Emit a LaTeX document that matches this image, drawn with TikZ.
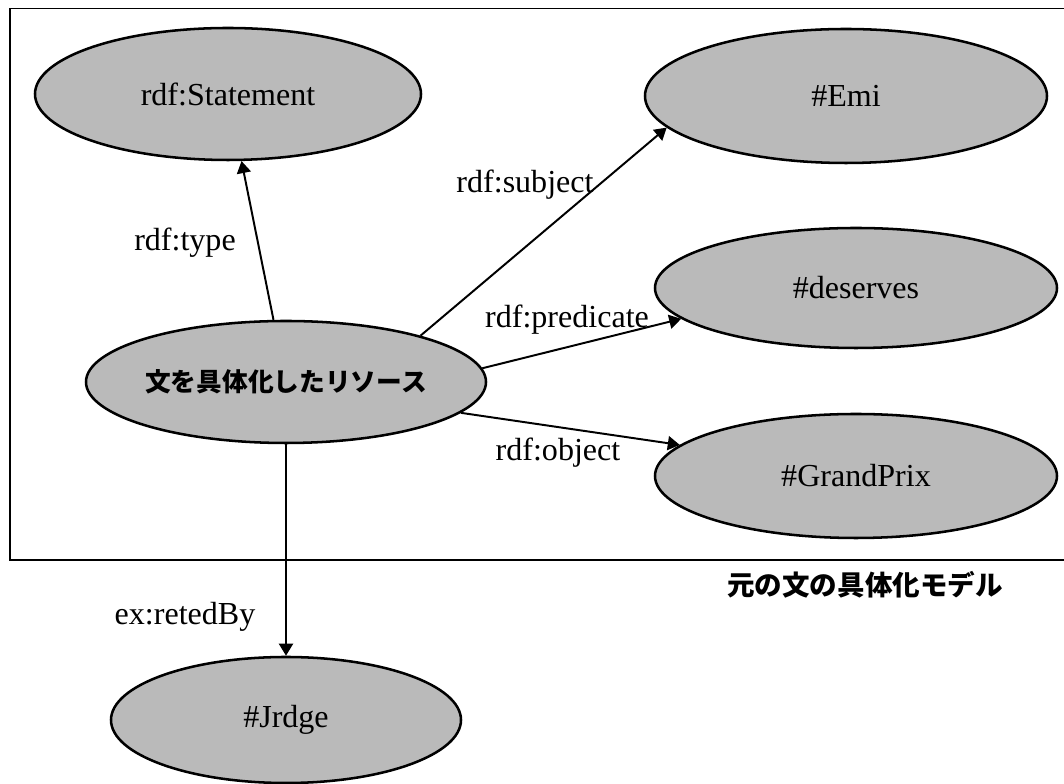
\documentclass[tikz,border=0pt]{standalone}
\usepackage{fontspec}
\setmainfont{Liberation Serif}
\newfontfamily\jpfont{Noto Sans CJK JP}
\usetikzlibrary{shapes.geometric,arrows.meta}
\begin{document}
\begin{tikzpicture}[
    res/.style={ellipse,draw,line width=1.8pt,fill=black!27,inner sep=0pt,
      font=\fontsize{22.8}{27}\selectfont},
    arr/.style={line width=1.4pt,-{Triangle[length=0.3cm,width=0.35cm]}},
    lbl/.style={font=\fontsize{22.8}{27}\selectfont,inner sep=0pt}]
  \useasboundingbox (0,0) rectangle (26.6,19.6);
  \draw[line width=1pt] (0.25,19.38) rectangle (26.8,5.6);
  \node[res,minimum width=9.65cm,minimum height=3.3cm] (stmt) at (5.7,17.25) {rdf:Statement};
  \node[res,minimum width=10.05cm,minimum height=3.35cm] (emi) at (21.15,17.2) {\#Emi};
  \node[res,minimum width=10.05cm,minimum height=3.0cm] (deserves) at (21.4,12.4) {\#deserves};
  \node[res,minimum width=10.05cm,minimum height=3.1cm] (prix) at (21.4,7.7) {\#GrandPrix};
  \node[res,minimum width=10.0cm,minimum height=3.05cm] (reif) at (7.15,10.05)
    {\jpfont\bfseries\fontsize{18.3}{22}\selectfont 文を具体化したリソース};
  \node[res,minimum width=8.75cm,minimum height=3.15cm] (judge) at (7.15,1.6) {\#Jrdge};
  \draw[arr] (reif) -- (stmt);
  \draw[arr] (reif.19) -- (emi.190);
  \draw[arr] (reif.4) -- (deserves.190);
  \draw[arr] (reif.350) -- (prix.170);
  \draw[arr] (reif.south) -- (judge.north);
  \node[lbl] (ltype) at (4.625,13.525) {rdf:type};
  \node[lbl] (lsubj) at (13.125,14.975) {rdf:subject};
  \node[lbl] (lpred) at (14.175,11.6) {rdf:predicate};
  \node[lbl] (lobj) at (13.95,8.275) {rdf:object};
  \node[lbl] (lrated) at (4.625,4.175) {ex:retedBy};
  \node[inner sep=0pt,font=\jpfont\bfseries\fontsize{19.6}{24}\selectfont] (model) at (21.625,4.975) {元の文の具体化モデル};
\end{tikzpicture}
\end{document}
